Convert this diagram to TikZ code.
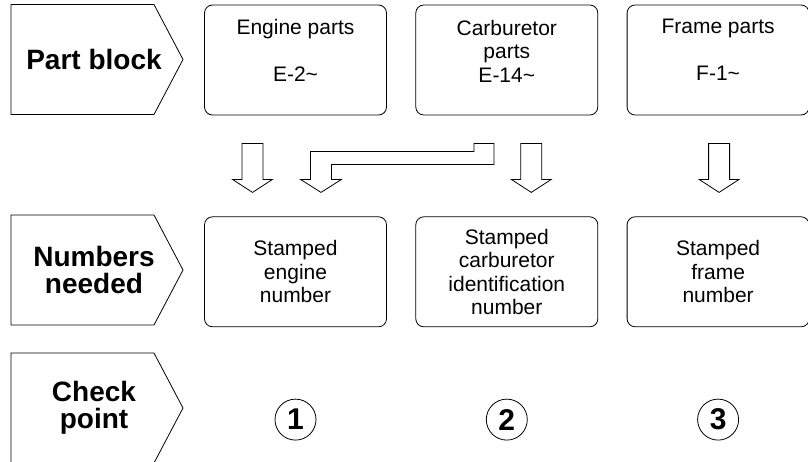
\documentclass[tikz,border=0pt]{standalone}
\usepackage{fontspec}
\setmainfont{Liberation Sans}
\usetikzlibrary{positioning}

\begin{document}
\begin{tikzpicture}
[x=1pt,y=1pt,line width=0.8pt,
 stage/.style={align=center,font=\fontsize{28}{27}\selectfont\bfseries},
 part/.style={draw,rounded corners=8pt,minimum width=182pt,minimum height=110pt},
 parttext/.style={align=center,inner sep=0pt,font=\fontsize{21}{23.5}\selectfont},
 stamp/.style={part,align=center,font=\fontsize{21}{23.5}\selectfont},
 check/.style={draw,circle,minimum size=41pt,inner sep=0pt,
   font=\fontsize{30}{30}\selectfont\bfseries},
 stagebox/.pic={\draw (0,55) -- (143,55) -- (172,0) -- (143,-55) -- (0,-55) -- cycle;},
 downarrow/.pic={\draw (-10.5,0) -- (-10.5,-36) -- (-20,-36) -- (0,-49)
   -- (20,-36) -- (10.5,-36) -- (10.5,0) -- cycle;}]
\clip (0,0) rectangle (808,-461);
% row headers
\pic at (11,-59.5) {stagebox};
\pic at (11,-270) {stagebox};
\pic at (11,-408) {stagebox};
\node[stage] (pb) at (94,-59.5) {Part block};
\node[stage] (nn) at (94,-270) {Numbers\\needed};
\node[stage] (cp) at (94,-408) {Check\\point};
% part blocks
\node[part] (eng) at (295.5,-60) {};
\node[part,right=28.5pt of eng] (carb) {};
\node[part,right=28.5pt of carb] (frame) {};
\node[parttext,below=14pt of eng.north] (engtxt) {Engine parts\\[23.5pt]E-2\textasciitilde};
\node[parttext,below=15pt of carb.north] (carbtxt) {Carburetor\\parts\\E-14\textasciitilde};
\node[parttext,below=14pt of frame.north] (frametxt) {Frame parts\\[23.5pt]F-1\textasciitilde};
% numbers needed
\node[stamp,below=101pt of eng] (engnum) {Stamped\\engine\\number};
\node[stamp,below=101pt of carb] (carbnum) {Stamped\\carburetor\\identification\\number};
\node[stamp,below=101pt of frame] (framenum) {Stamped\\frame\\number};
% check points
\node[check,below=71.5pt of engnum] (c1) {1};
\node[check,below=71.5pt of carbnum] (c2) {2};
\node[check,below=71.5pt of framenum] (c3) {3};
% arrows
\pic at ([xshift=-43pt,yshift=-28pt]eng.south) {downarrow};
\pic at ([xshift=24.5pt,yshift=-28pt]carb.south) {downarrow};
\pic at ([xshift=1pt,yshift=-28pt]frame.south) {downarrow};
\draw ([xshift=25.5pt,yshift=-77pt]eng.south) -- ++(20.5,13) -- ++(-10,0)
  -- ++(0,15) -- ++(162.5,0) -- ++(0,21) -- ++(-20,0) -- ++(0,-8)
  -- ++(-163.5,0) -- ++(0,-28) -- ++(-10,0) -- cycle;
\end{tikzpicture}
\end{document}
